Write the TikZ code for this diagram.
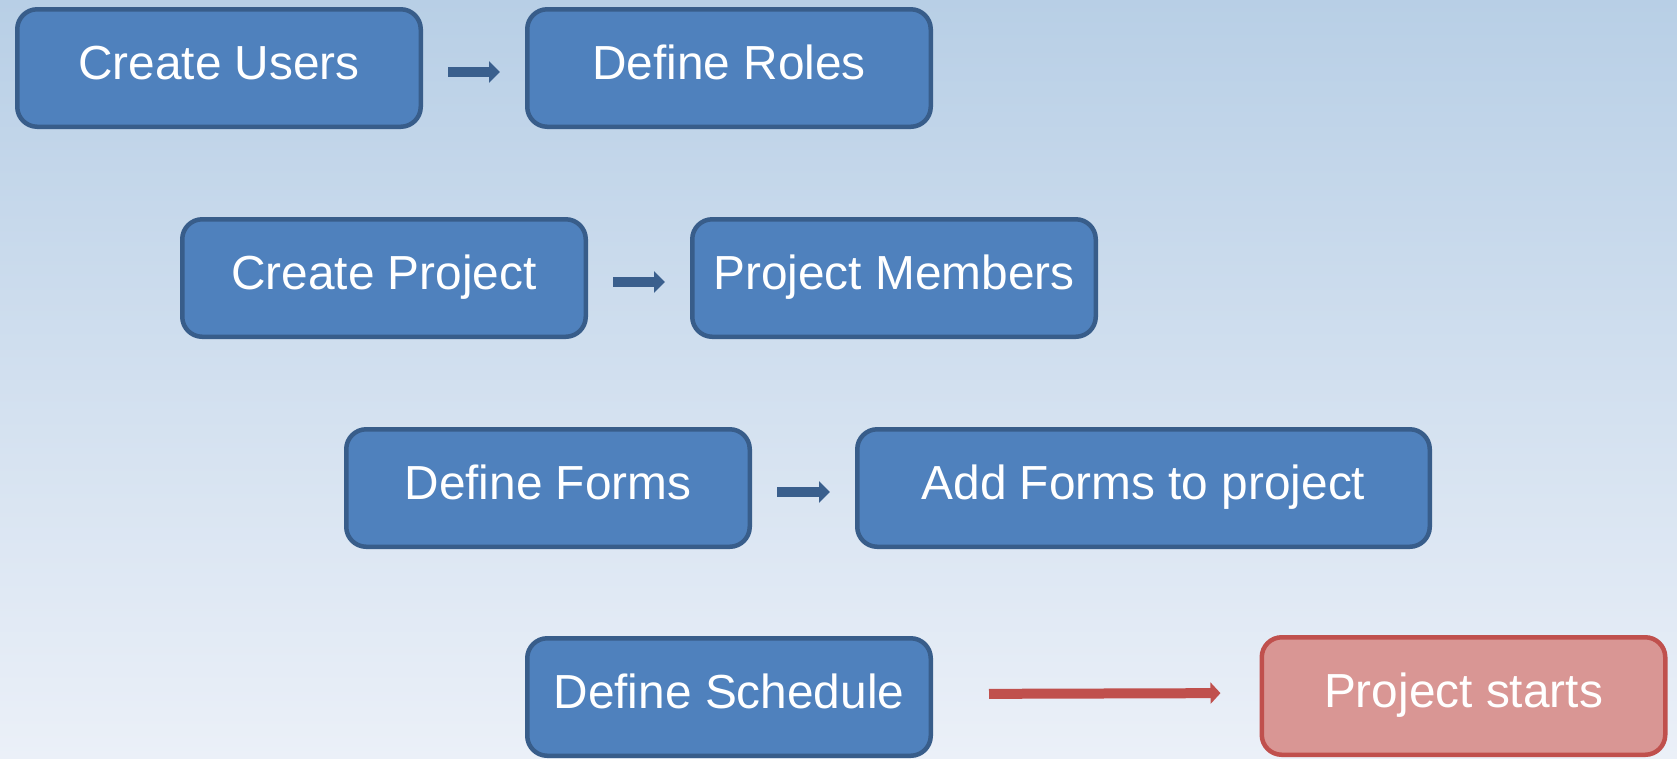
\documentclass[tikz,border=0pt]{standalone}
\usepackage{fontspec}
\setmainfont{Liberation Sans}
\usetikzlibrary{arrows.meta}
\definecolor{bgtop}{HTML}{B8CFE6}
\definecolor{bgbot}{HTML}{EBF0F8}
\definecolor{boxfill}{HTML}{4F81BD}
\definecolor{boxline}{HTML}{385D8A}
\definecolor{redfill}{HTML}{D99694}
\definecolor{redline}{HTML}{C0504D}
\definecolor{arrblue}{HTML}{3A5F8D}
\tikzset{
  stepbox/.style={draw=boxline, fill=boxfill, line width=0.45mm, rounded corners=2mm,
    minimum width=4.035cm, minimum height=1.175cm, text=white,
    font=\fontsize{13.6}{16}\selectfont, text height=0.35cm, text depth=0.12cm},
  redbox/.style={stepbox, draw=redline, fill=redfill},
  bluearr/.style={draw=arrblue, line width=1mm, -{Triangle[length=1.1mm,width=2.1mm]},
    shorten <=0.25cm, shorten >=0.25cm},
  redarr/.style={draw=redline, line width=1mm, -{Triangle[length=1mm,width=2.1mm]},
    shorten <=0.56cm, shorten >=0.39cm}
}
\begin{document}
\begin{tikzpicture}
\useasboundingbox (0,0) rectangle (16.77,-7.58);
\clip (0,0) rectangle (16.77,-7.58);
\shade[top color=bgtop, bottom color=bgbot] (0,0) rectangle (16.77,-7.58);
\node[stepbox] (users) at (2.19,-0.68) {Create Users};
\node[stepbox] (roles) at (7.29,-0.68) {Define Roles};
\node[stepbox] (proj) at (3.84,-2.78) {Create Project};
\node[stepbox] (members) at (8.94,-2.78) {Project Members};
\node[stepbox] (forms) at (5.48,-4.88) {Define Forms};
\node[stepbox, minimum width=5.725cm] (addforms) at (11.435,-4.88) {Add Forms to project};
\node[stepbox] (sched) at (7.29,-6.97) {Define Schedule};
\node[redbox] (start) at (14.635,-6.96) {Project starts};
\begin{scope}[transform canvas={yshift=-0.4mm}]
\draw[bluearr] (users.east) -- (roles.west);
\draw[bluearr] (proj.east) -- (members.west);
\draw[bluearr] (forms.east) -- (addforms.west);
\end{scope}
\draw[redarr, transform canvas={yshift=0.3mm}] (sched.east) -- (start.west);
\end{tikzpicture}
\end{document}
